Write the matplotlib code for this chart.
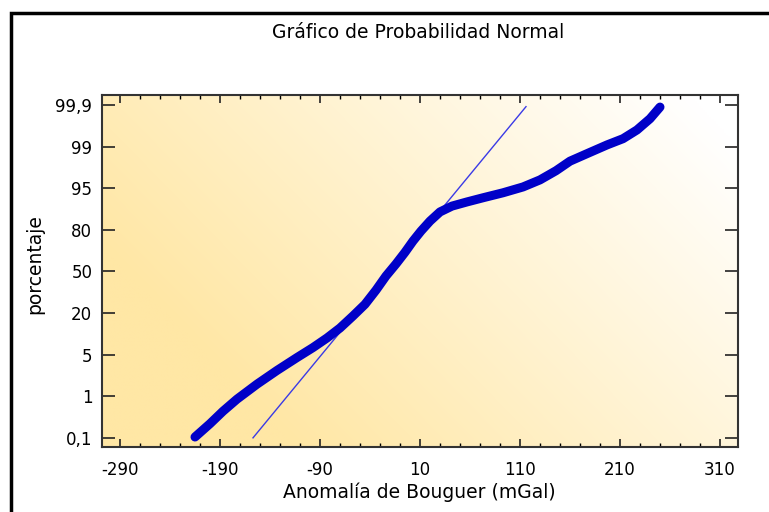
import numpy as np
import matplotlib
matplotlib.use("Agg")
import matplotlib.pyplot as plt
from matplotlib.patches import Rectangle

plt.rcParams["axes.unicode_minus"] = False

# Probability-axis labels (equally spaced on the plot's vertical scale)
prob_labels = ["0,1", "1", "5", "20", "50", "80", "95", "99", "99,9"]
prob_positions = [0, 1, 2, 3, 4, 5, 6, 7, 8]

# Ordered Bouguer anomaly values (mGal) and their position on the probability scale
anomaly_mgal = [-215, -200, -187, -173, -153, -133, -113, -97, -83, -70, -57,
                -45, -34, -24, -14, -5, 3, 11, 20, 30, 42, 57, 73, 93, 113,
                130, 146, 160, 177, 197, 213, 227, 240, 250]
prob_pos = [0.02, 0.34, 0.64, 0.93, 1.29, 1.62, 1.93, 2.17, 2.40, 2.64, 2.93,
            3.21, 3.55, 3.89, 4.18, 4.46, 4.73, 4.97, 5.21, 5.43, 5.57, 5.67,
            5.77, 5.89, 6.03, 6.20, 6.42, 6.65, 6.83, 7.04, 7.19, 7.40, 7.67,
            7.95]

# Fitted normal reference line (end points)
ref_mgal = [-157, 116]
ref_pos = [0.0, 7.96]

x_ticks = [-290, -190, -90, 10, 110, 210, 310]

W, H = 769, 512
fig = plt.figure(figsize=(W / 100, H / 100), dpi=100)
fig.patch.set_facecolor("white")

# Outer frame around the whole chart
fig.add_artist(Rectangle((11 / W, -0.1), 1.2, (H - 13) / H + 0.1,
                         transform=fig.transFigure, fill=False,
                         edgecolor="black", linewidth=2.5, zorder=10))

ax = fig.add_axes([102 / W, 65 / H, 636 / W, 352 / H])
ax.set_xlim(-308, 328)
ax.set_ylim(-0.22, 8.24)

# Diagonal yellow-to-white background
nx, ny = 300, 200
u = np.linspace(0, 1, nx)[None, :]
v = np.linspace(0, 1, ny)[:, None]
t = 0.65 * u + 0.35 * v
s = np.clip((t - 0.2) / 0.75, 0, 1)
yellow = np.array([255, 231, 165]) / 255
white = np.array([1.0, 1.0, 1.0])
img = yellow[None, None, :] * (1 - s[..., None]) + white[None, None, :] * s[..., None]
ax.imshow(img, extent=[0, 1, 0, 1], transform=ax.transAxes, origin="lower",
          aspect="auto", zorder=0, interpolation="bilinear")

ax.plot(ref_mgal, ref_pos, color="#3a3ae6", linewidth=1.0, zorder=3)
ax.plot(anomaly_mgal, prob_pos, color="#0000c8", linewidth=6.5,
        solid_capstyle="round", solid_joinstyle="round", zorder=4)

ax.set_xticks(x_ticks)
ax.set_xticks(np.arange(-290, 330, 20), minor=True)
ax.set_yticks(prob_positions)
ax.set_yticklabels(prob_labels)

ax.tick_params(axis="x", which="major", direction="in", length=5.5, width=1.2,
               top=True, bottom=True, labelsize=12, colors="#222222", pad=10)
ax.tick_params(axis="x", which="minor", direction="in", length=2.8, width=1.0,
               top=True, bottom=True)
ax.tick_params(axis="y", which="major", direction="in", length=9.5, width=1.2,
               left=True, right=True, labelsize=12, colors="#222222", pad=7)
for lab in ax.get_xticklabels() + ax.get_yticklabels():
    lab.set_color("black")

for sp in ax.spines.values():
    sp.set_color("#333333")
    sp.set_linewidth(1.5)

fig.text(419 / W, 1 - 492 / H, "Anomalía de Bouguer (mGal)",
         ha="center", va="center", fontsize=13.5)
fig.text(35 / W, 1 - 264 / H, "porcentaje", rotation=90,
         ha="center", va="center", fontsize=13.5)
fig.text(418 / W, 1 - 33 / H, "Gráfico de Probabilidad Normal",
         ha="center", va="center", fontsize=13.5)

fig.savefig("out.png", dpi=100)
